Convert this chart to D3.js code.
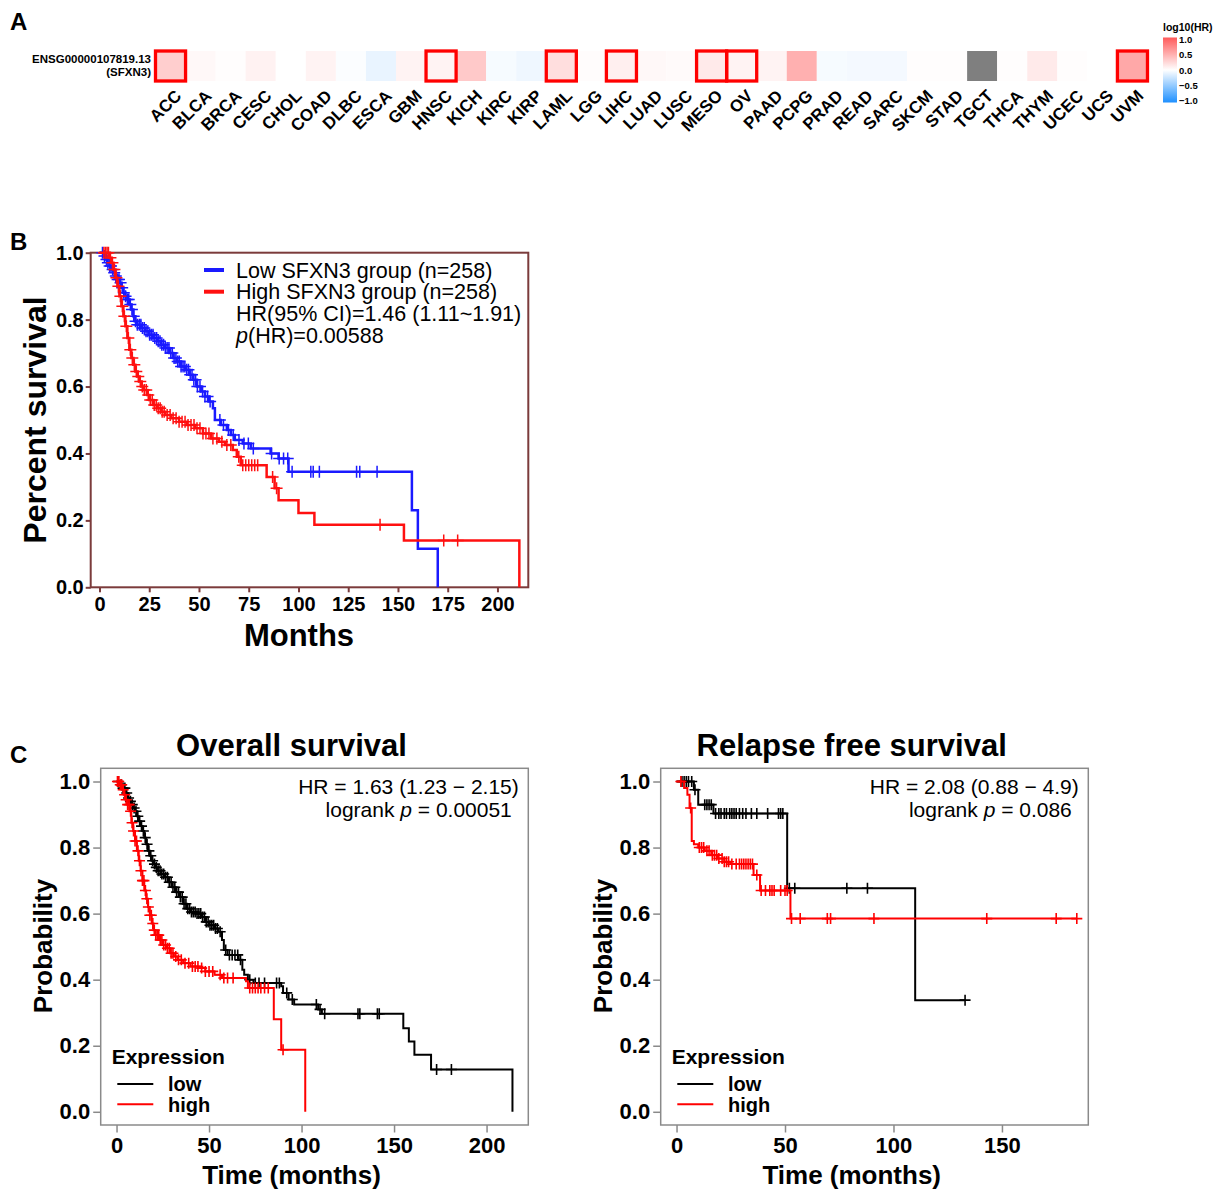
<!DOCTYPE html>
<html>
<head>
<meta charset="utf-8">
<script src="https://cdn.jsdelivr.net/npm/d3@7"></script>
<style>
  body { margin: 0; background: #fff; }
  svg text { font-family: "Liberation Sans", Arial, sans-serif; }
</style>
</head>
<body>
<svg id="fig" width="1225" height="1191"></svg>
<script>
// ---------- Panel A: log10(HR) per cancer type ----------
const cancers = ["ACC","BLCA","BRCA","CESC","CHOL","COAD","DLBC","ESCA","GBM","HNSC","KICH","KIRC","KIRP",
  "LAML","LGG","LIHC","LUAD","LUSC","MESO","OV","PAAD","PCPG","PRAD","READ","SARC","SKCM","STAD","TGCT",
  "THCA","THYM","UCEC","UCS","UVM"];
const log10HR = [0.30,0.04,0.01,0.08,0.0,0.07,-0.02,-0.10,0.07,0.07,0.33,-0.04,-0.07,
  0.20,0.02,0.10,0.04,0.03,0.13,0.07,0.07,0.48,-0.04,-0.05,-0.05,0.015,0.015,null,
  0.01,0.13,0.01,0.0,0.53];
const significant = ["ACC","HNSC","LAML","LIHC","MESO","OV","UVM"];
const colorTicks = [1.0, 0.5, 0.0, -0.5, -1.0];

// ---------- Panel B: GEPIA survival ----------
const bLowSteps = [[0,1],[2,0.99],[3,0.98],[4,0.97],[5,0.96],[6,0.95],[7,0.94],[8,0.93],[9,0.92],[10,0.91],
  [11,0.895],[12,0.88],[13,0.87],[14,0.86],[15,0.845],[16,0.83],[17,0.81],[18,0.795],[19,0.785],[21,0.775],
  [23,0.765],[25,0.755],[27,0.745],[29,0.735],[31,0.725],[33,0.715],[35,0.70],[37,0.685],[39,0.675],[41,0.66],
  [43,0.65],[45,0.635],[47,0.62],[49,0.60],[51,0.585],[53,0.57],[55,0.555],[57,0.535],[58,0.50],[61,0.485],
  [64,0.47],[66,0.455],[68,0.44],[72,0.43],[76,0.415],[86,0.40],[90,0.385],[95,0.345],[157,0.23],[160,0.115],[170,0]];
const bLowCensor = [1.5,2.5,3.5,4.2,5.1,5.8,6.6,7.4,8.2,9.1,9.8,10.6,11.4,12.2,13.1,14.0,14.7,15.5,16.3,17.2,
  18.1,19.0,20.0,20.8,21.6,22.5,23.4,24.3,25.2,26.0,26.9,27.8,28.7,29.5,30.4,31.3,32.2,33.1,34.0,34.9,35.8,
  36.6,37.5,38.4,39.3,40.1,41.0,42.0,42.9,43.8,44.7,45.6,46.5,47.4,48.3,49.2,50.5,51.8,53.0,54.3,55.6,60.5,
  62.3,64.8,67.2,70.1,72.6,74.8,77.3,86.5,90.3,92.5,94.6,96.8,106.2,107.4,110.5,129.2,130.8,139.5];
const bHighSteps = [[0,1],[5,0.985],[6,0.97],[7,0.95],[8,0.925],[9,0.90],[10,0.87],[11,0.84],[12,0.81],
  [13,0.78],[14,0.745],[15,0.71],[16,0.685],[17,0.665],[18,0.645],[19,0.63],[20,0.615],[21,0.60],[22,0.59],
  [24,0.575],[25,0.56],[27,0.545],[29,0.535],[31,0.525],[33,0.515],[36,0.505],[40,0.495],[44,0.485],[48,0.475],
  [52,0.46],[56,0.445],[60,0.435],[63,0.425],[67,0.41],[69,0.39],[71,0.365],[84,0.33],[88,0.296],[90,0.26],
  [100,0.222],[108,0.187],[153,0.14],[211,0]];
const bHighCensor = [2.2,3.0,3.8,4.5,5.5,6.5,7.5,8.5,9.5,10.5,11.5,12.5,13.5,14.5,15.5,16.5,17.5,18.5,19.5,
  20.5,21.5,22.5,23.5,24.5,25.5,26.5,27.5,28.5,29.5,30.5,31.5,32.5,34.0,35.5,37.0,38.5,40.0,41.5,43.0,44.5,
  46.0,47.5,49.0,50.5,52.0,53.5,55.0,57.0,59.0,61.5,64.0,66.0,70.0,72.0,73.5,75.0,76.5,78.0,79.5,87.0,89.0,
  141,173,180];

// ---------- Panel C: KM plotter, overall survival ----------
const osLowSteps = [[0,1],[2,0.99],[3,0.98],[5,0.965],[6,0.95],[7,0.94],[8,0.93],[9,0.92],[10,0.91],
  [11,0.895],[12,0.88],[13,0.865],[14,0.85],[15,0.83],[16,0.81],[17,0.79],[18,0.775],[19,0.76],[20,0.75],
  [21,0.74],[22,0.73],[24,0.72],[26,0.71],[28,0.695],[30,0.68],[32,0.665],[34,0.65],[36,0.63],[38,0.615],
  [40,0.605],[43,0.60],[46,0.59],[48,0.575],[50,0.565],[53,0.555],[55,0.545],[57,0.52],[58,0.49],[60,0.475],
  [66,0.46],[68,0.43],[69,0.415],[71,0.40],[74,0.39],[89,0.38],[90,0.36],[93,0.34],[96,0.325],[109,0.31],
  [111,0.297],[155,0.253],[158,0.213],[161,0.173],[170,0.128],[214,0]];
const osLowCensor = [1.0,2.5,3.5,4.5,5.5,6.5,7.5,8.5,9.5,10.5,11.5,12.5,13.5,14.5,15.5,16.5,17.5,18.5,19.5,
  20.5,21.5,22.5,23.5,24.5,25.5,26.5,27.5,28.5,29.5,30.5,31.5,32.5,33.5,34.5,35.5,36.5,37.5,38.5,39.5,40.5,
  41.5,42.5,43.5,44.5,45.5,46.5,47.5,48.5,49.5,50.5,51.5,52.5,53.5,54.5,56.0,59.0,61.0,62.5,64.0,65.5,67.0,
  72.0,75.0,77.0,80.0,86.5,88.0,92.0,95.0,108.0,110.0,112.5,130.5,131.5,141.0,142.0,173.0,181.0];
const osHighSteps = [[0,1],[2,0.99],[3,0.975],[4,0.96],[5,0.945],[6,0.93],[7,0.91],[8,0.875],[9,0.85],
  [10,0.82],[11,0.79],[12,0.76],[13,0.73],[14,0.70],[15,0.67],[16,0.645],[17,0.62],[18,0.595],[19,0.57],
  [20,0.55],[21,0.535],[23,0.52],[25,0.505],[27,0.495],[29,0.48],[31,0.47],[33,0.46],[36,0.45],[40,0.44],
  [45,0.435],[48,0.425],[53,0.415],[57,0.405],[70,0.395],[71,0.375],[85,0.28],[89,0.188],[102,0]];
const osHighCensor = [0.5,1.2,2.0,2.8,3.6,4.4,5.2,6.0,6.8,7.6,8.4,9.2,10.0,10.8,11.6,12.4,13.2,14.0,14.8,
  15.6,16.4,17.2,18.0,18.8,19.6,20.4,21.2,22.0,22.8,23.6,24.5,25.5,26.5,27.5,28.5,29.5,30.5,32.0,33.5,35.0,
  37.0,39.0,41.0,42.5,44.0,46.0,48.0,50.0,52.0,56.0,58.0,60.0,63.0,72.0,73.5,75.0,76.5,78.0,80.0,82.0,90.0];

// ---------- Panel C: KM plotter, relapse free survival ----------
const rfsLowSteps = [[0,1],[8,0.975],[10,0.93],[17,0.903],[51,0.677],[110,0.338],[133,0.338]];
const rfsLowCensor = [2.5,3.5,4.5,5.5,7.0,8.5,13.0,14.0,15.0,16.0,18.0,19.5,20.5,22.0,23.0,24.5,25.5,26.5,
  27.5,29.0,30.5,32.0,34.5,37.0,42.0,47.0,48.0,49.0,52.0,54.5,78.5,88.0,133.0];
const rfsHighSteps = [[0,1],[3.5,0.98],[5,0.96],[6,0.92],[7,0.82],[8,0.81],[10,0.80],[13,0.79],[16,0.777],
  [19,0.767],[22,0.757],[25,0.75],[35.5,0.717],[38.5,0.67],[52.5,0.585],[184.5,0.585]];
const rfsHighCensor = [2.0,6.5,10.5,11.5,12.5,14.0,15.0,16.5,17.5,18.5,19.5,21.0,22.0,23.0,24.0,25.5,27.5,
  29.0,30.0,31.0,32.0,33.0,34.0,35.0,37.0,39.0,41.0,43.0,44.0,45.0,48.0,50.0,51.0,53.0,57.0,69.5,71.0,91.0,
  143.0,175.0,184.5];

const svg = d3.select('#fig');

// panel letters
[['A', 30], ['B', 250], ['C', 763]].forEach(([l, y]) => {
  svg.append('text').attr('x', 10).attr('y', y).attr('font-size', 24).attr('font-weight', 'bold').text(l);
});

// ================= Panel A =================
const hmColor = d3.scaleLinear().domain([-1, 0, 1]).range(['#1e90ff', '#ffffff', '#ff5a5a']);
const xBand = d3.scaleBand().domain(cancers).range([155.5, 155.5 + 33 * 30.06]);
const cellTop = 51, cellH = 30;

const heat = svg.append('g');
heat.selectAll('.cell')
  .data(cancers)
  .join('rect')
    .attr('class', 'cell')
    .attr('x', d => xBand(d))
    .attr('y', cellTop)
    .attr('width', xBand.bandwidth())
    .attr('height', cellH)
    .attr('fill', (d, i) => log10HR[i] === null ? '#7f7f7f' : hmColor(log10HR[i]));

heat.selectAll('.sig')
  .data(significant)
  .join('rect')
    .attr('class', 'sig')
    .attr('x', d => xBand(d))
    .attr('y', cellTop)
    .attr('width', xBand.bandwidth())
    .attr('height', cellH)
    .attr('fill', 'none')
    .attr('stroke', '#ff0000')
    .attr('stroke-width', 3.3);

heat.selectAll('.clab')
  .data(cancers)
  .join('text')
    .attr('class', 'clab')
    .attr('text-anchor', 'end')
    .attr('font-size', 17)
    .attr('font-weight', 'bold')
    .attr('transform', d => `translate(${xBand(d) + xBand.bandwidth() / 2 + 12},97) rotate(-45)`)
    .text(d => d);

heat.append('text').attr('x', 151).attr('y', 63).attr('text-anchor', 'end')
  .attr('font-size', 11.5).attr('font-weight', 'bold').text('ENSG00000107819.13');
heat.append('text').attr('x', 151).attr('y', 76).attr('text-anchor', 'end')
  .attr('font-size', 11.5).attr('font-weight', 'bold').text('(SFXN3)');

// colour bar
const cbY = d3.scaleLinear().domain([-1, 1]).range([100.5, 39.5]);
const grad = svg.append('defs').append('linearGradient')
  .attr('id', 'cbgrad').attr('x1', 0).attr('x2', 0).attr('y1', 0).attr('y2', 1);
[1, 0.5, 0, -0.5, -1].forEach((v, i) => {
  grad.append('stop').attr('offset', `${i * 25}%`).attr('stop-color', hmColor(v));
});
svg.append('rect').attr('x', 1163).attr('y', 37.5).attr('width', 14).attr('height', 65)
  .attr('fill', 'url(#cbgrad)');
svg.append('text').attr('x', 1163).attr('y', 31).attr('font-size', 10.5).attr('font-weight', 'bold')
  .text('log10(HR)');
svg.selectAll('.cbt')
  .data(colorTicks)
  .join('text')
    .attr('class', 'cbt')
    .attr('x', 1179)
    .attr('y', d => cbY(d) + 3.5)
    .attr('font-size', 9.5)
    .attr('font-weight', 'bold')
    .text(d => d3.format('.1f')(d).replace('-', '\u2212'));

// ================= Kaplan–Meier helper =================
function survAt(steps, t) {
  let s = steps[0][1];
  for (const p of steps) { if (p[0] <= t) s = p[1]; }
  return s;
}

function drawKM(cfg) {
  const g = svg.append('g');
  const b = cfg.box;
  const x = d3.scaleLinear().domain(cfg.xDomain).range([b.left, b.right]);
  const y = d3.scaleLinear().domain(cfg.yDomain).range([b.bottom, b.top]);

  const xAxisG = g.append('g')
    .attr('transform', `translate(0,${b.bottom})`)
    .call(d3.axisBottom(x).tickValues(cfg.xTicks).tickSize(cfg.tickLen).tickPadding(cfg.xPad)
      .tickFormat(d3.format('d')));
  const yAxisG = g.append('g')
    .attr('transform', `translate(${b.left},0)`)
    .call(d3.axisLeft(y).tickValues([0, 0.2, 0.4, 0.6, 0.8, 1.0]).tickSize(cfg.tickLen).tickPadding(cfg.yPad)
      .tickFormat(d3.format('.1f')));
  [xAxisG, yAxisG].forEach(a => {
    a.select('.domain').remove();
    a.selectAll('line').attr('stroke', cfg.frame).attr('stroke-width', cfg.frameW);
    a.selectAll('text').attr('font-size', cfg.tickFont).attr('font-weight', 'bold').attr('fill', '#000')
      .attr('font-family', '"Liberation Sans", Arial, sans-serif');
  });

  g.append('rect')
    .attr('x', b.left).attr('y', b.top)
    .attr('width', b.right - b.left).attr('height', b.bottom - b.top)
    .attr('fill', 'none').attr('stroke', cfg.frame).attr('stroke-width', cfg.frameW);

  const line = d3.line().x(d => x(d[0])).y(d => y(d[1])).curve(d3.curveStepAfter);
  const h = cfg.markSize / 2;
  cfg.series.forEach(s => {
    g.append('path').datum(s.steps)
      .attr('d', line)
      .attr('fill', 'none')
      .attr('stroke', s.color)
      .attr('stroke-width', cfg.lineW);
    g.selectAll(null)
      .data(s.censor)
      .join('path')
        .attr('d', t => {
          const px = x(t), py = y(survAt(s.steps, t));
          return `M${px - h},${py}h${2 * h}M${px},${py - h}v${2 * h}`;
        })
        .attr('stroke', s.color)
        .attr('stroke-width', cfg.markW)
        .attr('fill', 'none');
  });
  return { x, y, g };
}

// ================= Panel B =================
drawKM({
  box: { left: 90.7, right: 528.3, top: 252.7, bottom: 587.3 },
  xDomain: [-4.42, 215.5], yDomain: [0, 1],
  xTicks: [0, 25, 50, 75, 100, 125, 150, 175, 200],
  tickLen: 5, xPad: 5, yPad: 2, tickFont: 20,
  frame: '#7b3b3b', frameW: 2,
  lineW: 2.5, markSize: 12, markW: 1.5,
  series: [
    { steps: bLowSteps, censor: bLowCensor, color: '#1a1aff' },
    { steps: bHighSteps, censor: bHighCensor, color: '#ff1010' }
  ]
});

svg.append('text')
  .attr('transform', 'translate(35,420) rotate(-90)')
  .attr('text-anchor', 'middle').attr('dy', '0.35em')
  .attr('font-size', 32).attr('font-weight', 'bold').text('Percent survival');
svg.append('text').attr('x', 299).attr('y', 646).attr('text-anchor', 'middle')
  .attr('font-size', 31).attr('font-weight', 'bold').text('Months');

const bLegend = [
  { color: '#1a1aff', text: 'Low SFXN3 group (n=258)' },
  { color: '#ff1010', text: 'High SFXN3 group (n=258)' }
];
bLegend.forEach((d, i) => {
  const cy = 270 + i * 21.7;
  svg.append('line').attr('x1', 204).attr('x2', 224).attr('y1', cy).attr('y2', cy)
    .attr('stroke', d.color).attr('stroke-width', 4);
  svg.append('text').attr('x', 236).attr('y', cy + 7.7).attr('font-size', 21.5).text(d.text);
});
svg.append('text').attr('x', 236).attr('y', 313.3 + 7.7).attr('font-size', 21.5)
  .text('HR(95% CI)=1.46 (1.11~1.91)');
const pB = svg.append('text').attr('x', 236).attr('y', 335 + 7.7).attr('font-size', 21.5);
pB.append('tspan').attr('font-style', 'italic').text('p');
pB.append('tspan').text('(HR)=0.00588');

// ================= Panel C =================
const cPanels = [
  {
    title: 'Overall survival', titleX: 291.5,
    box: { left: 100.7, right: 528.3, top: 768.3, bottom: 1125 },
    xDomain: [-8.56, 222.56], xTicks: [0, 50, 100, 150, 200],
    low: [osLowSteps, osLowCensor], high: [osHighSteps, osHighCensor],
    hr: 'HR = 1.63 (1.23 \u2212 2.15)', p: '0.00051', ylabX: 43
  },
  {
    title: 'Relapse free survival', titleX: 851.7,
    box: { left: 660.7, right: 1088.3, top: 768.3, bottom: 1125 },
    xDomain: [-7.3, 189.8], xTicks: [0, 50, 100, 150],
    low: [rfsLowSteps, rfsLowCensor], high: [rfsHighSteps, rfsHighCensor],
    hr: 'HR = 2.08 (0.88 \u2212 4.9)', p: '0.086', ylabX: 603
  }
];

cPanels.forEach(c => {
  drawKM({
    box: c.box, xDomain: c.xDomain, yDomain: [-0.04, 1.04], xTicks: c.xTicks,
    tickLen: 7.5, xPad: 4.5, yPad: 3, tickFont: 22,
    frame: '#8a8a8a', frameW: 1.5,
    lineW: 2, markSize: 11, markW: 1.6,
    series: [
      { steps: c.low[0], censor: c.low[1], color: '#000000' },
      { steps: c.high[0], censor: c.high[1], color: '#ff0000' }
    ]
  });
  const b = c.box;
  svg.append('text').attr('x', c.titleX).attr('y', 756).attr('text-anchor', 'middle')
    .attr('font-size', 31).attr('font-weight', 'bold').text(c.title);
  svg.append('text')
    .attr('transform', `translate(${c.ylabX},946) rotate(-90)`)
    .attr('text-anchor', 'middle').attr('dy', '0.35em')
    .attr('font-size', 26).attr('font-weight', 'bold').text('Probability');
  svg.append('text').attr('x', c.titleX).attr('y', 1184).attr('text-anchor', 'middle')
    .attr('font-size', 26).attr('font-weight', 'bold').text('Time (months)');

  svg.append('text').attr('x', b.right - 9.5).attr('y', 794).attr('text-anchor', 'end')
    .attr('font-size', 21).text(c.hr);
  const pt = svg.append('text').attr('x', b.right - 16.5).attr('y', 817).attr('text-anchor', 'end')
    .attr('font-size', 21);
  pt.append('tspan').text('logrank ');
  pt.append('tspan').attr('font-style', 'italic').text('p');
  pt.append('tspan').text(' = ' + c.p);

  svg.append('text').attr('x', b.left + 11).attr('y', 1064)
    .attr('font-size', 21).attr('font-weight', 'bold').text('Expression');
  [['low', '#000000', 1084], ['high', '#ff0000', 1104.3]].forEach(([lab, col, ly]) => {
    svg.append('line').attr('x1', b.left + 16.6).attr('x2', b.left + 52.6).attr('y1', ly).attr('y2', ly)
      .attr('stroke', col).attr('stroke-width', 2);
    svg.append('text').attr('x', b.left + 67.3).attr('y', ly + 7.2)
      .attr('font-size', 20).attr('font-weight', 'bold').text(lab);
  });
});
</script>
</body>
</html>
